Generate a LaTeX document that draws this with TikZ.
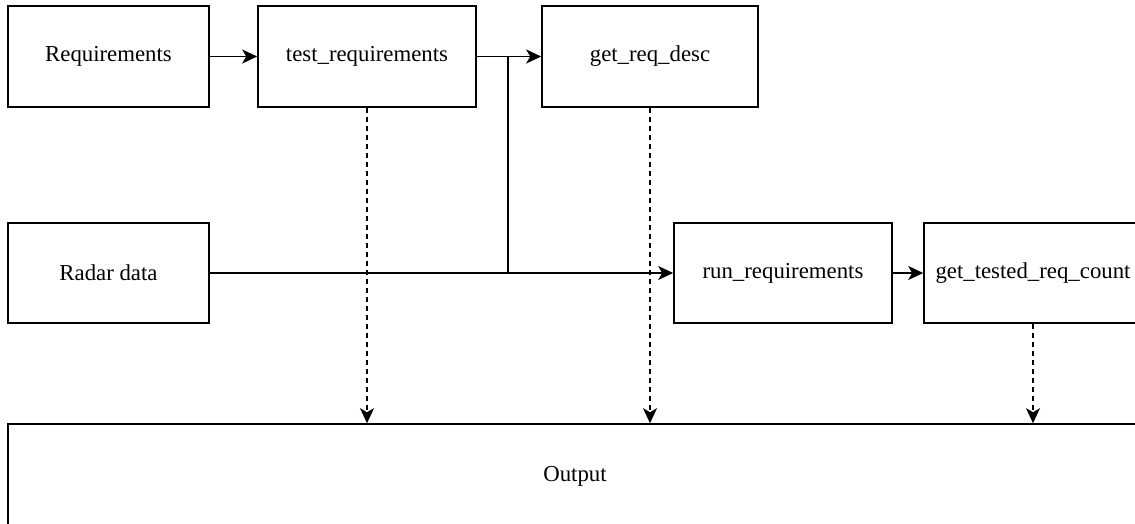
\documentclass[tikz,border=0pt]{standalone}
\usepackage{fontspec}
\setmainfont{Liberation Serif}
\newfontfamily\blockfont{Liberation Serif}
\usetikzlibrary{arrows.meta}

\tikzset{
  block/.style={draw=black, line width=1.6pt, fill=white, inner sep=0pt,
    font=\blockfont\fontsize{22.8}{27}\selectfont},
  tip/.tip={Stealth[length=15pt,width=14pt,inset=4pt]},
  flow/.style={draw=black, line width=1.6pt, -tip},
  wire/.style={draw=black, line width=1.6pt},
  feed/.style={flow, dash pattern=on 5pt off 4pt}
}

\begin{document}
\begin{tikzpicture}[x=1pt,y=-1pt]
  \useasboundingbox (0,0) rectangle (1135,523);
  \clip (0,0) rectangle (1135,523);

  % processing blocks
  \node[block, minimum width=201pt, minimum height=101pt] (req)    at (108.5,56.5) {Requirements};
  \node[block, minimum width=218pt, minimum height=101pt] (test)   at (367,56.5)   {test\_requirements};
  \node[block, minimum width=216pt, minimum height=101pt] (desc)   at (650,56.5)   {get\_req\_desc};
  \node[block, minimum width=201pt, minimum height=100pt] (radar)  at (108.5,273)  {Radar data};
  \node[block, minimum width=218pt, minimum height=100pt] (run)    at (783,273)    {run\_requirements};
  \node[block, minimum width=218pt, minimum height=100pt] (count)  at (1033,273)   {get\_tested\_req\_count};
  \node[block, minimum width=1134pt, minimum height=104pt] (out)   at (575,476)    {Output};

  % branch point feeding run_requirements
  \coordinate (split) at (508,56.5);
  \coordinate (merge) at (508,273);

  % data flow
  \draw[flow] (req) -- (test);
  \draw[flow] (test) -- (desc);
  \draw[wire] (split) -- (merge);
  \draw[flow] (radar) -- (run);
  \draw[flow] (run) -- (count);

  % results collected in the output
  \draw[feed] (test.south) -- (test.south |- out.north);
  \draw[feed] (desc.south) -- (desc.south |- out.north);
  \draw[feed] (count.south) -- (count.south |- out.north);
\end{tikzpicture}
\end{document}
